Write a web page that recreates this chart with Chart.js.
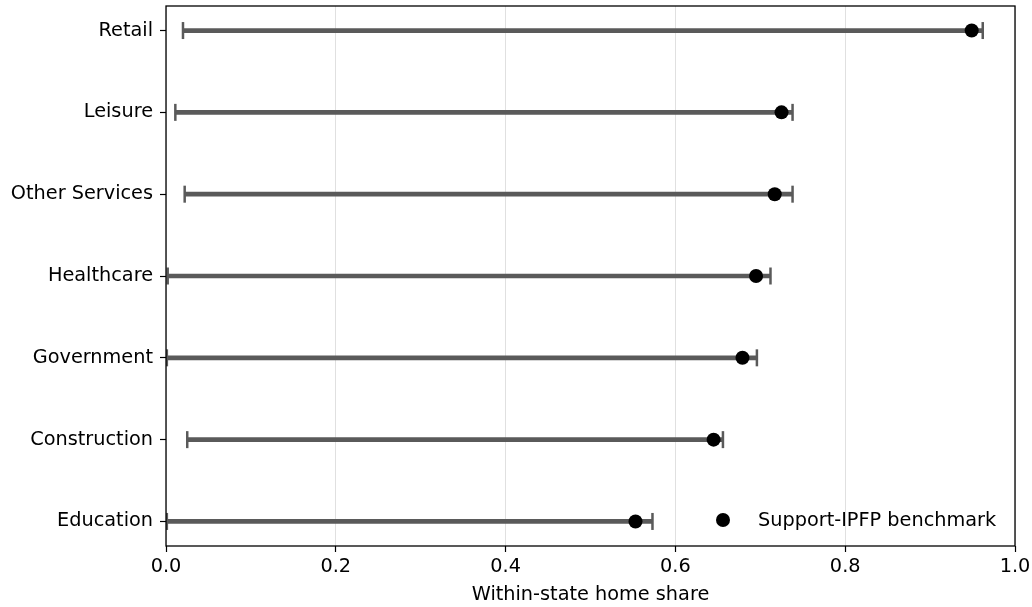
<!DOCTYPE html>
<html>
<head>
<meta charset="utf-8">
<script src="https://cdn.jsdelivr.net/npm/chart.js@4"></script>
<style>
  html, body { margin: 0; padding: 0; background: #fff; }
  #wrap { position: relative; width: 1032px; height: 607px; }
  #legend {
    position: absolute; display: flex; align-items: center;
    font-family: 'DejaVu Sans', sans-serif; font-size: 19.3px; color: #000;
    white-space: nowrap; line-height: 1;
  }
  #legend .dot { width: 14px; height: 14px; border-radius: 50%; background: #000; margin-right: 28px; }
</style>
</head>
<body>
<div id="wrap">
  <canvas id="chartRange" width="1032" height="607"></canvas>
  <div id="legend"><span class="dot"></span><span>Support-IPFP benchmark</span></div>
</div>
<script>
const categories = ['Retail', 'Leisure', 'Other Services', 'Healthcare', 'Government', 'Construction', 'Education'];
const lower      = [0.020, 0.011, 0.022, 0.002, 0.001, 0.025, 0.001];
const upper      = [0.962, 0.738, 0.738, 0.712, 0.696, 0.656, 0.573];
const benchmark  = [0.949, 0.725, 0.717, 0.695, 0.679, 0.645, 0.553];
const xTicks     = [0, 0.2, 0.4, 0.6, 0.8, 1.0];

document.addEventListener('DOMContentLoaded', () => {
  const font = { family: 'DejaVu Sans', size: 19.3 };
  const grey = '#5a5a5a';

  const caps = [];
  categories.forEach((_, i) => {
    caps.push({ x: lower[i], y: i });
    caps.push({ x: upper[i], y: i });
  });

  // frame round the plot area, and place the html legend
  const framePlugin = {
    id: 'frame',
    afterDraw(chart) {
      const a = chart.chartArea, ctx = chart.ctx;
      ctx.save();
      ctx.strokeStyle = '#000';
      ctx.lineWidth = 1.3;
      ctx.strokeRect(a.left, a.top, a.right - a.left, a.bottom - a.top);
      ctx.restore();
      const lg = document.getElementById('legend');
      lg.style.left = (a.right - 299) + 'px';
      lg.style.top = (a.bottom - 36) + 'px';
    },
  };

  new Chart(document.getElementById('chartRange'), {
    type: 'bar',
    data: {
      datasets: [
        {
          type: 'scatter',
          label: 'Support-IPFP benchmark',
          data: benchmark.map((v, i) => ({ x: v, y: i })),
          pointRadius: 7,
          pointBackgroundColor: '#000',
          pointBorderWidth: 0,
          order: 0,
        },
        {
          type: 'scatter',
          label: 'caps',
          data: caps,
          pointStyle: 'line',
          rotation: 90,
          pointRadius: 8.5,
          borderColor: grey,
          pointBorderWidth: 2.5,
          order: 1,
        },
        {
          type: 'bar',
          label: 'range',
          indexAxis: 'y',
          data: categories.map((_, i) => ({ x: [lower[i], upper[i]], y: i })),
          backgroundColor: grey,
          barThickness: 4,
          order: 2,
        },
      ],
    },
    options: {
      responsive: false,
      animation: false,
      layout: { autoPadding: false, padding: { left: 0, right: 17, top: 6, bottom: 0 } },
      plugins: {
        legend: { display: false },
        tooltip: { enabled: false },
      },
      scales: {
        x: {
          type: 'linear',
          offset: false,
          min: 0,
          max: 1,
          afterBuildTicks: s => { s.ticks = xTicks.map(v => ({ value: v })); },
          afterFit: s => { s.height = 61; s.paddingLeft = 0; s.paddingRight = 0; },
          ticks: { font, color: '#000', padding: 3, callback: v => v.toFixed(1), maxRotation: 0 },
          grid: { offset: false, color: '#e0e0e0', lineWidth: 1, tickColor: '#000', tickLength: 6, tickWidth: 1.2 },
          border: { display: false },
          title: { display: true, text: 'Within-state home share', font, color: '#000', padding: { top: 0, bottom: 0 } },
        },
        y: {
          type: 'linear',
          offset: false,
          reverse: true,
          min: -0.3,
          max: 6.3,
          afterBuildTicks: s => { s.ticks = categories.map((_, i) => ({ value: i })); },
          afterFit: s => { s.width = 166; s.paddingTop = 0; s.paddingBottom = 0; },
          ticks: { font, color: '#000', padding: 7, callback: v => categories[v] },
          grid: { offset: false, drawOnChartArea: false, tickColor: '#000', tickLength: 6, tickWidth: 1.2 },
          border: { display: false },
        },
      },
    },
    plugins: [framePlugin],
  });
});
</script>
</body>
</html>
